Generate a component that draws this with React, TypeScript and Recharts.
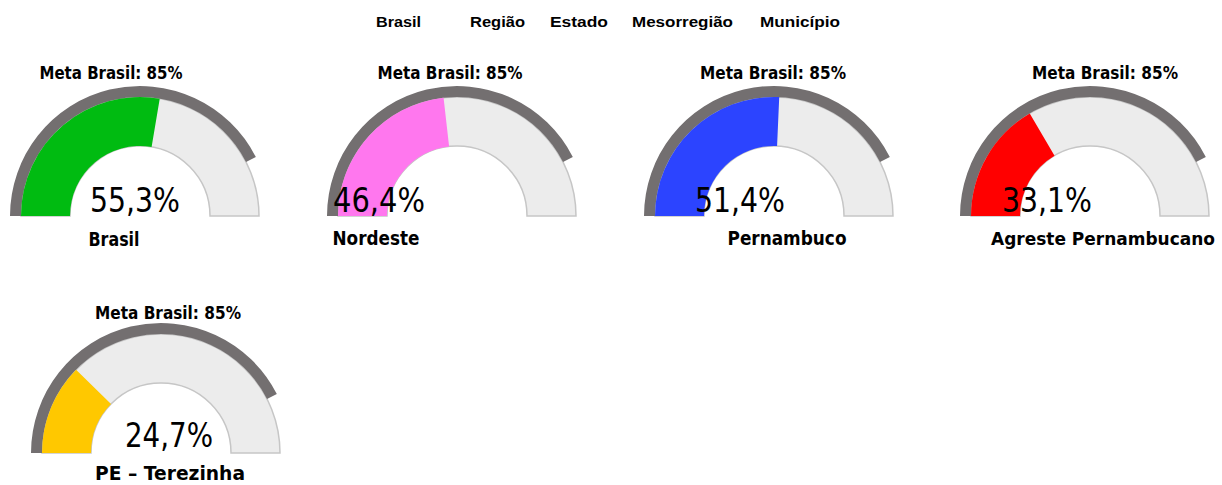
import { PieChart, Pie, Cell, Legend } from 'recharts';

// valores
const gaugeNames = ['Brasil', 'Nordeste', 'Pernambuco', 'Agreste Pernambucano', 'PE – Terezinha'];
const gaugeValues = [55.3, 46.4, 51.4, 33.1, 24.7];
const gaugeColors = ['#00bb11', '#ff77ee', '#2c44ff', '#ff0000', '#ffc800'];
const metaValue = 85;
const metaLabel = 'Meta Brasil: 85%';
const legendItems = ['Brasil', 'Região', 'Estado', 'Mesorregião', 'Município'];

// layout de cada velocímetro (posições em px, relativas à página)
const layout = [
  { cx: 140, cy: 216, metaX: 111, metaW: 143, metaY: 79, pctX: 135, pctW: 90, pctY: 212, labX: 114, labW: 51, labY: 246, labFs: 19 },
  { cx: 457, cy: 216, metaX: 450, metaW: 145, metaY: 79, pctX: 379, pctW: 92, pctY: 212, labX: 376, labW: 87, labY: 245, labFs: 19 },
  { cx: 774, cy: 216, metaX: 773, metaW: 146, metaY: 79, pctX: 740, pctW: 90, pctY: 212, labX: 787, labW: 119, labY: 245, labFs: 19 },
  { cx: 1090, cy: 216, metaX: 1105, metaW: 146, metaY: 79, pctX: 1047, pctW: 90, pctY: 212, labX: 1103, labW: 224, labY: 245, labFs: 17 },
  { cx: 161, cy: 453, metaX: 168, metaW: 146, metaY: 319, pctX: 169, pctW: 88, pctY: 447, labX: 170, labW: 150, labY: 480, labFs: 19 },
];

const legendPos = [
  { x: 376, w: 45 },
  { x: 470, w: 55 },
  { x: 550, w: 58 },
  { x: 632, w: 101 },
  { x: 760, w: 80 },
];

const LEGEND_H = 36; // a legenda empurra a área do gráfico para baixo
const INNER = 70;
const OUTER = 119;
const BAND = 130;
const FONT = '"DejaVu Sans", Verdana, sans-serif';

function fmt(v: number) {
  return v.toFixed(1).replace('.', ',') + '%';
}

function gaugeTexts(i: number) {
  const g = layout[i];
  return (
    <g key={`txt-${i}`}>
      <text x={g.metaX} y={g.metaY} textAnchor="middle" fontFamily={FONT} fontWeight="bold"
        fontSize={17} textLength={g.metaW} lengthAdjust="spacingAndGlyphs" fill="#000">
        {metaLabel}
      </text>
      <text x={g.pctX} y={g.pctY} textAnchor="middle" fontFamily={FONT}
        fontSize={34} textLength={g.pctW} lengthAdjust="spacingAndGlyphs" fill="#000">
        {fmt(gaugeValues[i])}
      </text>
      <text x={g.labX} y={g.labY} textAnchor="middle" fontFamily={FONT} fontWeight="bold"
        fontSize={g.labFs} textLength={g.labW} lengthAdjust="spacingAndGlyphs" fill="#000">
        {gaugeNames[i]}
      </text>
    </g>
  );
}

function TopLegend() {
  return (
    <svg width={1222} height={LEGEND_H} style={{ display: 'block' }}>
      {legendItems.map((name, i) => (
        <text key={name} x={legendPos[i].x} y={26.5} fontFamily='"Liberation Sans", Arial, sans-serif'
          fontWeight="bold" fontSize={14} textLength={legendPos[i].w} lengthAdjust="spacingAndGlyphs" fill="#000">
          {name}
        </text>
      ))}
    </svg>
  );
}

export default function App() {
  return (
    <div style={{ position: 'absolute', left: 0, top: 0, width: 1222, height: 485, background: '#fff' }}>
      <PieChart width={1222} height={485} margin={{ top: 0, right: 0, bottom: 0, left: 0 }}>
        <Legend
          verticalAlign="top"
          align="left"
          content={() => <TopLegend />}
          wrapperStyle={{ position: 'absolute', top: 0, left: 0, width: 1222, height: LEGEND_H }}
        />
        {layout.map((g, i) => (
          <Pie
            key={`bg-${i}`}
            data={[{ name: 'total', value: 100 }]}
            dataKey="value"
            cx={g.cx}
            cy={g.cy - LEGEND_H}
            startAngle={180}
            endAngle={0}
            innerRadius={INNER}
            outerRadius={OUTER}
            fill="#ececec"
            stroke="#c6c6c6"
            strokeWidth={1.5}
            isAnimationActive={false}
          />
        ))}
        {layout.map((g, i) => (
          <Pie
            key={`meta-${i}`}
            data={[
              { name: 'meta', value: metaValue },
              { name: 'resto', value: 100 - metaValue },
            ]}
            dataKey="value"
            cx={g.cx}
            cy={g.cy - LEGEND_H}
            startAngle={180}
            endAngle={0}
            innerRadius={OUTER}
            outerRadius={BAND}
            stroke="none"
            isAnimationActive={false}
          >
            <Cell fill="#736f70" />
            <Cell fill="none" />
          </Pie>
        ))}
        {layout.map((g, i) => (
          <Pie
            key={`val-${i}`}
            data={[
              { name: gaugeNames[i], value: gaugeValues[i] },
              { name: 'resto', value: 100 - gaugeValues[i] },
            ]}
            dataKey="value"
            cx={g.cx}
            cy={g.cy - LEGEND_H}
            startAngle={180}
            endAngle={0}
            innerRadius={INNER}
            outerRadius={OUTER}
            stroke="none"
            labelLine={false}
            label={(p: any) => (p.index === 0 ? gaugeTexts(i) : null)}
            isAnimationActive={false}
          >
            <Cell fill={gaugeColors[i]} />
            <Cell fill="none" />
          </Pie>
        ))}
      </PieChart>
    </div>
  );
}
